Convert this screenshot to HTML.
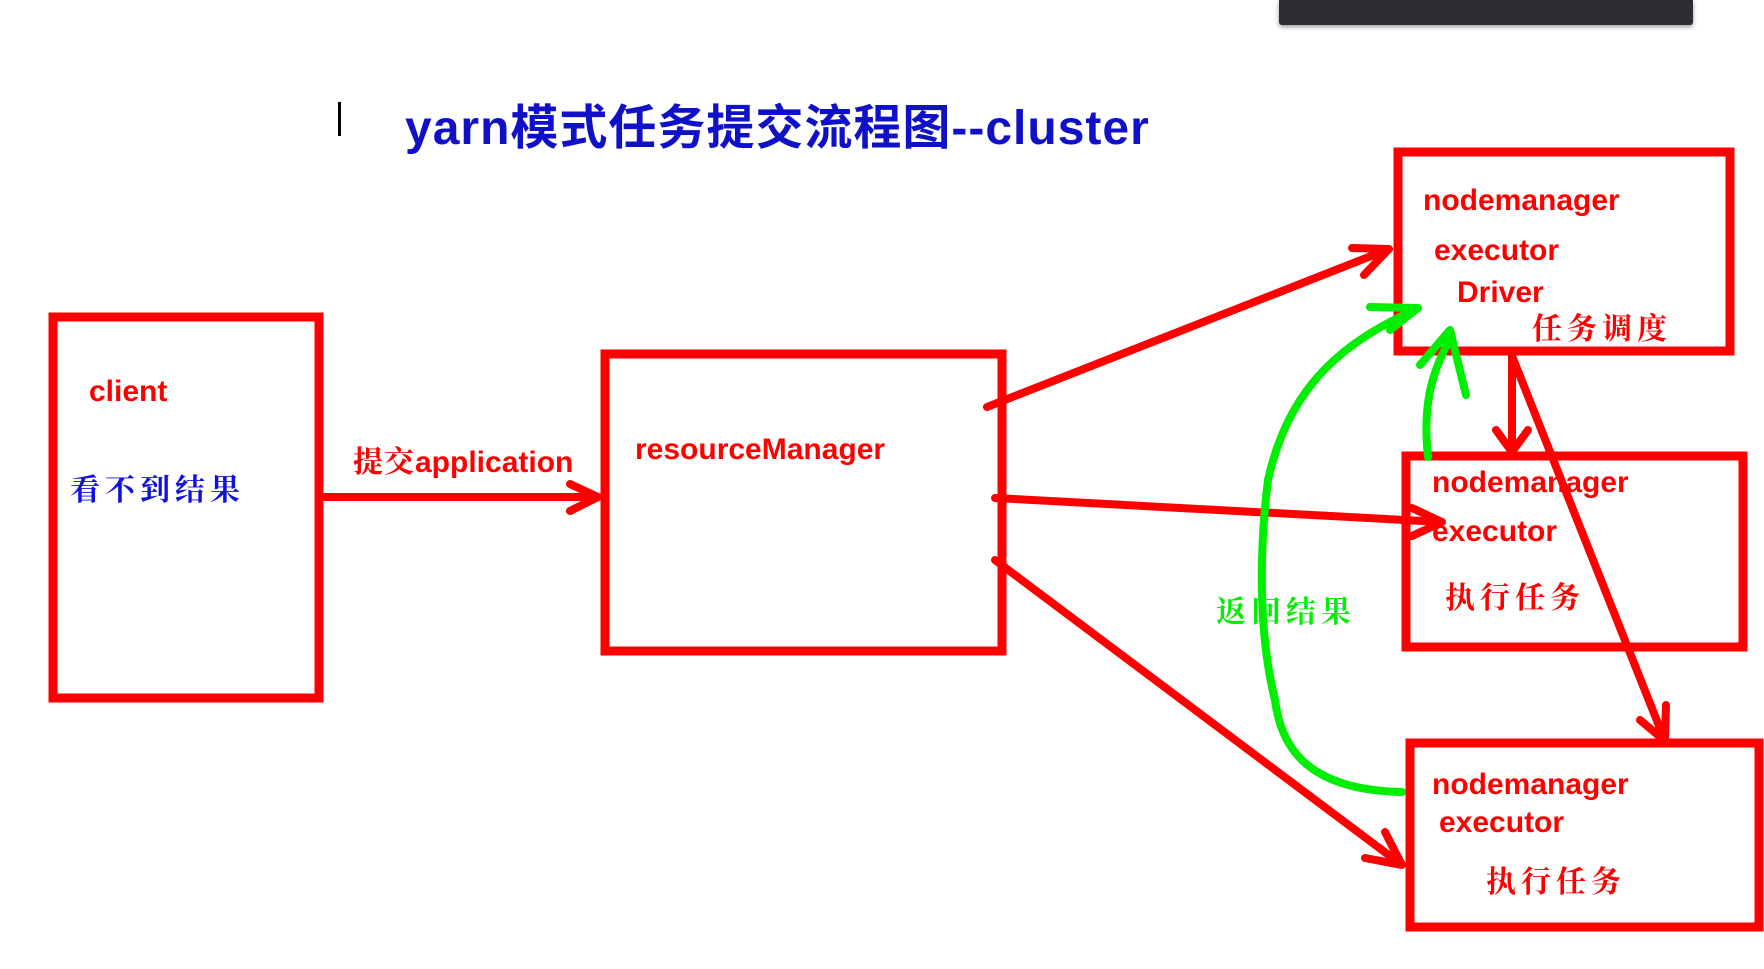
<!DOCTYPE html>
<html><head><meta charset="utf-8"><style>
body{margin:0;width:1764px;height:969px;background:#fff;position:relative;overflow:hidden;font-family:"Liberation Sans","Noto Sans CJK SC",sans-serif}
.t{position:absolute;white-space:nowrap;font-weight:bold;color:#f00;line-height:1}
.c{font-family:"Noto Serif CJK SC","Liberation Serif",serif;font-weight:bold;letter-spacing:5px}
</style></head><body>
<div style="position:absolute;left:1279px;top:0;width:414px;height:25px;background:#2b2d30;border-radius:0 0 3px 3px;box-shadow:0 2px 5px rgba(0,0,0,.4)"></div>
<div style="position:absolute;left:338px;top:102px;width:3px;height:34px;background:#000"></div>
<div class="t" style="left:405px;top:105px;font-size:48px;color:#1010c8;letter-spacing:1px">yarn模式任务提交流程图--cluster</div>
<svg width="1764" height="969" style="position:absolute;left:0;top:0">
<g fill="none" stroke="#f00" stroke-width="9">
<rect x="53" y="317" width="266" height="381"/>
<rect x="605" y="354" width="397" height="297"/>
<rect x="1398" y="152" width="332" height="199"/>
<rect x="1406" y="456" width="337" height="191"/>
<rect x="1410" y="743" width="349" height="184"/>
</g>
<g fill="none" stroke="#f00" stroke-width="8" stroke-linecap="round" stroke-linejoin="round">
<path d="M319 497 L598 497 M570 484 L598 497 L570 511"/>
<path d="M987 407 L1389 249 M1352 248 L1389 249 L1364 275"/>
<path d="M995 498 L1442 522 M1412 508 L1442 522 L1412 536"/>
<path d="M995 560 L1402 865 M1385 832 L1402 865 L1365 858"/>
<path d="M1512 356 L1512 452 M1496 430 L1512 452 L1528 430"/>
<path d="M1512 356 L1665 741 M1640 720 L1665 741 L1666 705"/>
</g>
<g fill="none" stroke="#0e0" stroke-width="8" stroke-linecap="round" stroke-linejoin="round">
<path d="M1402 792 C1300 790 1280 740 1275 700 C1260 640 1258 560 1268 480 C1290 380 1350 340 1414 310"/>
<path d="M1370 307 L1418 308 L1390 330"/>
<path d="M1428 457 C1424 420 1426 380 1450 340"/>
<path d="M1420 365 L1450 330 L1466 395"/>
</g>
</svg>
<div class="t" style="left:89px;top:377px;font-size:30px">client</div>
<div class="t c" style="left:70px;top:472px;font-size:30px;color:#1010e0">看不到结果</div>
<div class="t" style="left:353px;top:444px;font-size:30px"><span class="c" style="letter-spacing:1px">提交</span>application</div>
<div class="t" style="left:635px;top:435px;font-size:30px">resourceManager</div>
<div class="t" style="left:1423px;top:186px;font-size:30px">nodemanager</div>
<div class="t" style="left:1434px;top:236px;font-size:30px">executor</div>
<div class="t" style="left:1457px;top:278px;font-size:30px">Driver</div>
<div class="t c" style="left:1532px;top:311px;font-size:30px">任务调度</div>
<div class="t" style="left:1432px;top:468px;font-size:30px">nodemanager</div>
<div class="t" style="left:1432px;top:517px;font-size:30px">executor</div>
<div class="t c" style="left:1445px;top:580px;font-size:30px">执行任务</div>
<div class="t" style="left:1432px;top:770px;font-size:30px">nodemanager</div>
<div class="t" style="left:1439px;top:808px;font-size:30px">executor</div>
<div class="t c" style="left:1486px;top:864px;font-size:30px">执行任务</div>
<div class="t c" style="left:1216px;top:594px;font-size:30px;color:#0e0">返回结果</div>
</body></html>
